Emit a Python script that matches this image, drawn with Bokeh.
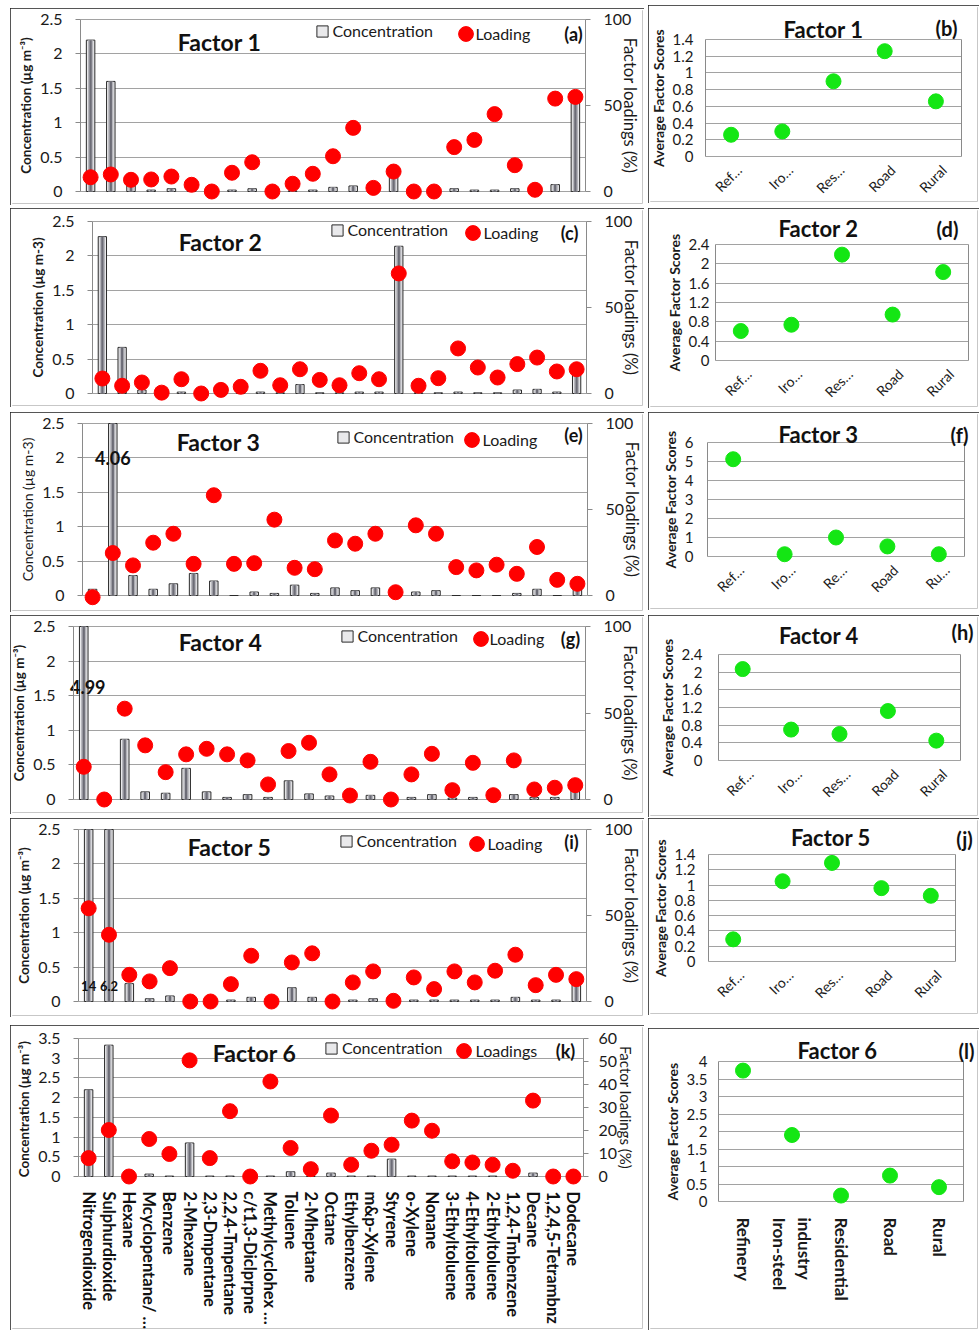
import math
from bokeh.plotting import figure
from bokeh.models import (ColumnDataSource, Range1d, LinearAxis, FixedTicker,
                          Legend, LegendItem, Label, Spacer, CustomJSTickFormatter)
from bokeh.layouts import column, row
from bokeh.embed import file_html
from bokeh.resources import INLINE
from bokeh.core.properties import value

# ---------------------------------------------------------------- data
species = ["Nitrogendioxide", "Sulphurdioxide", "Hexane", "Mcyclopentane/ …", "Benzene",
           "2-Mhexane", "2,3-Dmpentane", "2,2,4-Tmpentane", "c/t1,3-Diclprpne",
           "Methylcyclohex …", "Toluene", "2-Mheptane", "Octane", "Ethylbenzene",
           "m&p-Xylene", "Styrene", "o-Xylene", "Nonane", "3-Ethyltoluene",
           "4-Ethyltoluene", "2-Ethyltoluene", "1,2,4-Tmbenzene", "Decane",
           "1,2,4,5-Tetrambnz", "Dodecane"]

conc_f1 = [2.2, 1.6, 0.12, 0.02, 0.04, 0.02, 0.01, 0.02, 0.04, 0.01, 0.01, 0.02, 0.06,
           0.08, 0.01, 0.22, 0.01, 0.01, 0.04, 0.02, 0.02, 0.04, 0.01, 0.1, 1.33]
load_f1 = [8.3, 9.9, 6.8, 7.0, 8.7, 3.9, 0, 10.9, 17.0, 0, 4.5, 10.3, 20.5, 37.0, 2.1,
           11.6, 0, 0, 25.8, 30.0, 45.0, 15.3, 1.0, 54.0, 55.0]

conc_f2 = [2.28, 0.67, 0.05, 0.01, 0.02, 0.01, 0.01, 0.01, 0.02, 0.01, 0.13, 0.01, 0.01,
           0.02, 0.02, 2.14, 0.01, 0.01, 0.02, 0.01, 0.01, 0.05, 0.06, 0.02, 0.3]
load_f2 = [8.7, 4.5, 6.4, 0.5, 8.3, 0, 2.1, 3.9, 13.2, 4.8, 14.1, 7.9, 4.8, 11.8, 8.3,
           69.8, 4.5, 8.9, 26.2, 15.1, 9.3, 17.1, 20.9, 12.8, 14.1]

conc_f3 = [0.09, 4.06, 0.29, 0.09, 0.17, 0.32, 0.21, 0.0, 0.05, 0.03, 0.15, 0.03, 0.11,
           0.07, 0.11, 0.01, 0.05, 0.07, 0.0, 0.0, 0.0, 0.03, 0.09, 0.0, 0.1]
load_f3 = [-1.0, 24.7, 17.5, 30.7, 35.9, 18.4, 58.3, 18.4, 18.8, 44.1, 16.1, 15.3, 32.0,
           30.1, 35.9, 1.9, 40.8, 35.9, 16.5, 14.6, 17.9, 12.6, 28.2, 9.1, 6.8]

conc_f4 = [4.99, 0.0, 0.87, 0.11, 0.09, 0.45, 0.11, 0.03, 0.07, 0.03, 0.27, 0.08, 0.05,
           0.01, 0.06, 0.0, 0.03, 0.07, 0.02, 0.03, 0.01, 0.07, 0.03, 0.03, 0.19]
load_f4 = [18.9, 0, 52.5, 31.3, 15.8, 26.1, 29.3, 26.1, 22.6, 8.7, 28.0, 32.8, 14.5, 2.3,
           21.8, 0, 14.5, 26.4, 5.4, 21.2, 2.5, 22.6, 5.8, 6.8, 8.3]

conc_f5 = [14, 6.2, 0.26, 0.04, 0.08, 0.0, 0.0, 0.02, 0.06, 0.0, 0.2, 0.06, 0.0, 0.02,
           0.04, 0.0, 0.02, 0.02, 0.02, 0.02, 0.02, 0.06, 0.02, 0.02, 0.27]
load_f5 = [54.2, 38.8, 15.5, 11.7, 19.4, 0, 0, 10.1, 26.6, 0, 22.7, 28.0, 0, 11.1, 17.5,
           0.4, 14.0, 7.2, 17.5, 11.1, 17.9, 27.2, 9.5, 15.5, 13.0]

conc_f6 = [2.2, 3.33, 0.0, 0.06, 0.01, 0.85, 0.01, 0.01, 0.01, 0.01, 0.12, 0.01, 0.085,
           0.01, 0.01, 0.44, 0.01, 0.01, 0.01, 0.01, 0.01, 0.01, 0.085, 0.0, 0.0]
load_f6 = [8.0, 20.2, 0, 16.3, 9.8, 50.5, 8.0, 28.4, 0, 41.3, 12.4, 3.2, 26.5, 5.1, 11.2,
           13.8, 24.3, 19.9, 6.6, 6.1, 5.1, 2.5, 33.0, 0, 0]

sites_short = ["Ref…", "Iro…", "Res…", "Road", "Rural"]
sites_f3 = ["Ref…", "Iro…", "Re…", "Road", "Ru…"]
# two-line label: lines listed so that, turned upright, they read "Iron-steel industry"
sites_full = ["Refinery", "industry\nIron-steel", "Residential", "Road", "Rural"]

score_f1 = [0.26, 0.30, 0.90, 1.26, 0.66]
score_f2 = [0.61, 0.74, 2.19, 0.95, 1.83]
score_f3 = [5.12, 0.12, 1.0, 0.53, 0.12]
score_f4 = [2.07, 0.70, 0.60, 1.12, 0.45]
score_f5 = [0.29, 1.05, 1.29, 0.96, 0.86]
score_f6 = [3.74, 1.90, 0.17, 0.74, 0.41]

# ---------------------------------------------------------------- style
FONT = "Lato"
GRID = "#a2a2a2"
AXC = "#8a8a8a"
TXT = "#1a1a1a"
RED = "#ff0000"
GREEN = "#14e614"
BOX = {"outline": "2px solid #1e1e1e", "outline-offset": "-2px"}
FMT = CustomJSTickFormatter(code="return String(Math.round(tick*100)/100);")


def ticks(vmax, step):
    return [round(i * step, 4) for i in range(int(round(vmax / step)) + 1)]


def slots(names, shift=0.0):
    # centre of each category slot on a numeric axis
    return [i + 0.5 + shift for i in range(len(names))]


def add_label(p, g, X, Y, text, size, bold=True, align="center", color="#111111"):
    p.add_layout(Label(x=X - g["frame_left"], y=g["frame_bottom"] - Y,
                       x_units="screen", y_units="screen", text=text, text_font=FONT,
                       text_font_size=size, text_font_style="bold" if bold else "normal",
                       text_align=align, text_baseline="middle", text_color=color))


def add_legend(p, g, r, label, Xc, Yc, box, standoff):
    leg = Legend(items=[LegendItem(label=label, renderers=[r])],
                 location=(Xc - box / 2 - g["frame_left"], g["frame_bottom"] - (Yc + box / 2)),
                 orientation="horizontal", glyph_width=box, glyph_height=box,
                 label_height=box, label_standoff=standoff, padding=0, margin=0, spacing=0,
                 border_line_color=None, background_fill_alpha=0,
                 label_text_font=FONT, label_text_font_size="16px",
                 label_text_color=TXT)
    p.add_layout(leg)


def style_yaxis(ax, yt, ymax, size, standoff, tick_out):
    ax.ticker = FixedTicker(ticks=yt)
    ax.formatter = FMT
    ax.bounds = (0, ymax)
    ax.axis_line_color = AXC
    ax.major_tick_line_color = AXC if tick_out else None
    ax.major_tick_out = tick_out
    ax.major_tick_in = 0
    ax.minor_tick_line_color = None
    ax.major_label_text_font = FONT
    ax.major_label_text_font_size = size
    ax.major_label_text_color = TXT
    ax.major_label_standoff = standoff
    ax.axis_label_text_font = FONT
    ax.axis_label_text_color = TXT


def pixel_range(vmax, g):
    # range whose 0 sits at pixel fz and whose vmax sits at pixel ft, over the whole frame
    upp = vmax / (g["fz"] - g["ft"])
    return Range1d(-(g["frame_bottom"] - g["fz"]) * upp,
                   vmax + (g["ft"] - g["frame_top"]) * upp)


def base_figure(g, n, ymax):
    # the frame fills the whole box; categories occupy [fl, fr]; axes are placed inside it
    g["frame_left"] = g["ox"] + 2
    g["frame_right"] = g["ox"] + g["w"] - 2
    g["frame_top"] = g["oy"] + 2
    g["frame_bottom"] = g["oy"] + g["h"] - 2
    cw = (g["fr"] - g["fl"]) / n
    xr = Range1d(-(g["fl"] - g["frame_left"]) / cw, n + (g["frame_right"] - g["fr"]) / cw)
    p = figure(width=g["w"], height=g["h"], x_range=xr, y_range=pixel_range(ymax, g),
               output_backend="svg", toolbar_location=None,
               min_border_left=2, min_border_right=2, min_border_top=2,
               min_border_bottom=2, styles=BOX)
    p.outline_line_color = None
    p.xgrid.visible = False
    return p


def bounded_grid(p, yt, n):
    grid = p.ygrid[0]
    grid.ticker = FixedTicker(ticks=yt)
    grid.grid_line_color = GRID
    grid.grid_line_width = 1.2
    if "cross_bounds" in grid.properties():
        grid.cross_bounds = (0, n)
    else:
        grid.visible = False
        p.segment(x0=[0] * len(yt), x1=[n] * len(yt), y0=yt, y1=yt,
                  line_color=GRID, line_width=1.2)


def make_left(cfg):
    g = cfg["geom"]
    n = len(species)
    ymax, rmax = cfg["ymax"], cfg["rmax"]
    p = base_figure(g, n, ymax)
    yt = ticks(ymax, cfg["ystep"])
    bounded_grid(p, yt, n)

    ax = p.yaxis[0]
    ax.fixed_location = 0
    style_yaxis(ax, yt, ymax, "16px", 13, 5)
    ax.axis_label = cfg["ylabel"]
    ax.axis_label_text_font_size = cfg.get("ysize", "13.5px")
    ax.axis_label_text_font_style = "bold" if cfg["ybold"] else "normal"
    ax.axis_label_standoff = 3

    # bars taller than the axis are cut at the axis maximum (value written as text)
    shown = [min(v, ymax) for v in cfg["conc"]]
    src = ColumnDataSource(dict(x=slots(species), conc=cfg["conc"], shown=shown,
                                load=cfg["load"]))
    bar = p.vbar(x="x", top="shown", bottom=0, width=0.42, source=src,
                 fill_color="#e9e9eb", line_color="#2a2a2a", line_width=1)
    p.vbar(x="x", top="shown", bottom=0, width=0.26, source=src,
           fill_color="#b4b4ba", line_color=None)
    p.vbar(x="x", top="shown", bottom=0, width=0.11, source=src,
           fill_color="#6c6c76", line_color=None)

    p.extra_y_ranges = {"load": pixel_range(rmax, g)}
    dots = p.scatter(x="x", y="load", source=src, y_range_name="load", size=15,
                     fill_color=RED, line_color=RED)

    rt = ticks(rmax, cfg["rstep"])
    rax = LinearAxis(y_range_name="load", fixed_location=n)
    style_yaxis(rax, rt, rmax, "16px", cfg.get("rlab", 13), 5)
    rax.axis_label = "Factor loadings (%)"
    rax.axis_label_text_font_size = cfg.get("rsize", "16.5px")
    rax.axis_label_text_font_style = "normal"
    rax.axis_label_standoff = cfg.get("rstand", -14)
    p.add_layout(rax, "right")

    xa = p.xaxis[0]
    if cfg.get("xlabels"):
        xa.fixed_location = 0
        xa.ticker = FixedTicker(ticks=slots(species))
        xa.major_label_overrides = dict(zip(slots(species), species))
        xa.axis_line_color = None
        xa.major_tick_line_color = None
        xa.minor_tick_line_color = None
        xa.major_tick_out = 0
        xa.major_label_orientation = "vertical"
        xa.major_label_text_font = FONT
        xa.major_label_text_font_size = "16.5px"
        xa.major_label_text_font_style = "bold"
        xa.major_label_text_color = "#111111"
        xa.major_label_standoff = 15
    else:
        xa.visible = False

    # concentrations above the axis maximum are written as text
    over = [i for i, v in enumerate(cfg["conc"]) if v > ymax]
    if over:
        os_ = cfg["over"]
        xs = slots(species)
        p.text(x=[xs[i] for i in over], y=[os_["y"]] * len(over),
               text=[f"{cfg['conc'][i]:g}" for i in over],
               text_font=value(FONT), text_font_size=os_["size"], text_font_style="bold",
               text_align="center", text_baseline="middle", text_color="#111111",
               x_offset=os_.get("dx", 0))

    add_label(p, g, cfg["tpos"][0], cfg["tpos"][1], cfg["title"], "23px")
    add_label(p, g, cfg["tagpos"][0], cfg["tagpos"][1], cfg["tag"], "18px")
    add_legend(p, g, bar, "Concentration", cfg["sq"][0], cfg["sq"][1], 14, 4)
    add_legend(p, g, dots, "", cfg["dot"][0], cfg["dot"][1], 37, 0)
    add_label(p, g, cfg["txt2"], cfg["dot"][1], cfg["leg"], "16px", bold=False,
              align="left", color=TXT)
    return p


def make_right(cfg):
    g = cfg["geom"]
    sites = cfg["sites"]
    n = len(sites)
    ymax = cfg["ymax"]
    p = base_figure(g, n, ymax)
    yt = ticks(ymax, cfg["ystep"])
    bounded_grid(p, yt, n)

    ax = p.yaxis[0]
    ax.fixed_location = 0
    style_yaxis(ax, yt, ymax, "15px", cfg["ystand"], 0)
    ax.axis_label = "Average Factor Scores"
    ax.axis_label_text_font_size = "14px"
    ax.axis_label_text_font_style = "bold"
    ax.axis_label_standoff = 3

    rb = LinearAxis(ticker=FixedTicker(ticks=[]), bounds=(0, ymax), fixed_location=n)
    rb.axis_line_color = AXC
    rb.major_tick_out = 0
    rb.major_tick_in = 0
    rb.major_label_standoff = 0
    rb.major_label_text_font_size = "1px"
    p.add_layout(rb, "right")

    src = ColumnDataSource(dict(x=slots(sites), s=cfg["score"]))
    p.scatter(x="x", y="s", source=src, size=15, fill_color=GREEN, line_color=GREEN)

    xa = p.xaxis[0]
    xa.fixed_location = 0
    xa.axis_line_color = None
    xa.major_tick_line_color = None
    xa.minor_tick_line_color = None
    xa.major_tick_out = 0
    xa.major_label_text_font = FONT
    xa.major_label_text_color = TXT
    if cfg.get("full"):
        xa.ticker = FixedTicker(ticks=slots(sites))
        xa.major_label_overrides = dict(zip(slots(sites), sites))
        xa.major_label_orientation = "vertical"
        xa.major_label_text_font_size = "17px"
        xa.major_label_text_font_style = "bold"
        xa.major_label_standoff = 16
    else:
        # slanted labels end a little right of the slot centre, as in the original
        cw = (g["fr"] - g["fl"]) / n
        lab_at = slots(sites, 8 / cw)
        xa.ticker = FixedTicker(ticks=lab_at)
        xa.major_label_overrides = dict(zip(lab_at, sites))
        xa.major_label_orientation = math.pi / 4
        xa.major_label_text_font_size = "14px"
        xa.major_label_standoff = 11

    add_label(p, g, cfg["tpos"][0], cfg["tpos"][1], cfg["title"], "22px")
    add_label(p, g, cfg["tagpos"][0], cfg["tagpos"][1], cfg["tag"], "20px")
    return p


left_cfgs = [
    dict(conc=conc_f1, load=load_f1, title="Factor 1", tag="(a)", leg="Loading",
         ylabel="Concentration (µg m⁻³)", ybold=True, ymax=2.5, ystep=0.5, rmax=100, rstep=50,
         geom=dict(ox=10, oy=8, w=634, h=197, fl=80, fr=585, ft=19, fz=191),
         tpos=(219, 41), tagpos=(573, 33), sq=(321.5, 33), dot=(465, 33), txt2=475),
    dict(conc=conc_f2, load=load_f2, title="Factor 2", tag="(c)", leg="Loading",
         ylabel="Concentration (µg m-3)", ybold=True, ymax=2.5, ystep=0.5, rmax=100, rstep=50,
         geom=dict(ox=10, oy=208, w=634, h=199, fl=92, fr=586, ft=221, fz=393),
         tpos=(220, 241), tagpos=(569, 232), sq=(336.5, 232), dot=(472, 232), txt2=483),
    dict(conc=conc_f3, load=load_f3, title="Factor 3", tag="(e)", leg="Loading",
         ylabel="Concentration (µg m-3)", ybold=False, ysize="14px",
         ymax=2.5, ystep=0.5, rmax=100, rstep=50,
         geom=dict(ox=10, oy=412, w=634, h=200, fl=82, fr=587, ft=423, fz=595),
         tpos=(218, 441), tagpos=(573, 434), sq=(342.5, 439), dot=(471, 439), txt2=482,
         over=dict(y=2.0, size="18px")),
    dict(conc=conc_f4, load=load_f4, title="Factor 4", tag="(g)", leg="Loading",
         ylabel="Concentration (µg m⁻³)", ybold=True, ymax=2.5, ystep=0.5, rmax=100, rstep=50,
         geom=dict(ox=10, oy=615, w=634, h=199, fl=73, fr=585, ft=626, fz=799),
         tpos=(220, 641), tagpos=(570, 638), sq=(346.5, 638), dot=(480, 638), txt2=489,
         over=dict(y=1.63, size="18px", dx=4)),
    dict(conc=conc_f5, load=load_f5, title="Factor 5", tag="(i)", leg="Loading",
         ylabel="Concentration (µg m⁻³)", ybold=True, ymax=2.5, ystep=0.5, rmax=100, rstep=50,
         geom=dict(ox=10, oy=818, w=634, h=199, fl=78, fr=586, ft=829, fz=1001),
         tpos=(229, 846), tagpos=(571, 841), sq=(345.5, 843), dot=(476, 843), txt2=487,
         over=dict(y=0.23, size="13px")),
    dict(conc=conc_f6, load=load_f6, title="Factor 6", tag="(k)", leg="Loadings",
         ylabel="Concentration  (µg m⁻³)", ybold=True, ymax=3.5, ystep=0.5, rmax=60, rstep=10,
         rsize="15px", rstand=-3, rlab=10, xlabels=True,
         geom=dict(ox=10, oy=1025, w=634, h=305, fl=78, fr=583, ft=1038, fz=1176),
         tpos=(254, 1052), tagpos=(565, 1050), sq=(331, 1050), dot=(463, 1050), txt2=475),
]

right_cfgs = [
    dict(sites=sites_short, score=score_f1, title="Factor 1", tag="(b)", ymax=1.4, ystep=0.2,
         ystand=12, geom=dict(ox=648, oy=5, w=331, h=198, fl=705, fr=961, ft=39, fz=156),
         tpos=(823, 29), tagpos=(946, 27)),
    dict(sites=sites_short, score=score_f2, title="Factor 2", tag="(d)", ymax=2.4, ystep=0.4,
         ystand=6, geom=dict(ox=648, oy=208, w=331, h=200, fl=715, fr=968, ft=244, fz=360),
         tpos=(818, 228), tagpos=(947, 228)),
    dict(sites=sites_f3, score=score_f3, title="Factor 3", tag="(f)", ymax=6, ystep=1,
         ystand=14, geom=dict(ox=648, oy=412, w=331, h=198, fl=707, fr=964, ft=442, fz=556),
         tpos=(818, 434), tagpos=(959, 434)),
    dict(sites=sites_short, score=score_f4, title="Factor  4", tag="(h)", ymax=2.4, ystep=0.4,
         ystand=16, geom=dict(ox=648, oy=615, w=331, h=202, fl=718, fr=960, ft=654, fz=760),
         tpos=(821, 635), tagpos=(962, 631)),
    dict(sites=sites_short, score=score_f5, title="Factor  5", tag="(j)", ymax=1.4, ystep=0.2,
         ystand=13, geom=dict(ox=648, oy=818, w=331, h=197, fl=708, fr=955, ft=854, fz=961),
         tpos=(833, 837), tagpos=(964, 838)),
    dict(sites=sites_full, score=score_f6, title="Factor 6", tag="(l)", ymax=4, ystep=0.5,
         ystand=11, full=True,
         geom=dict(ox=648, oy=1028, w=331, h=302, fl=718, fr=963, ft=1061, fz=1201),
         tpos=(837, 1050), tagpos=(966, 1050)),
]

left_figs = [make_left(c) for c in left_cfgs]
right_figs = [make_right(c) for c in right_cfgs]


def stack(figs, cfgs, width):
    items = []
    prev_bottom = 0
    for f, c in zip(figs, cfgs):
        gap = c["geom"]["oy"] - prev_bottom
        if gap > 0:
            items.append(Spacer(width=width, height=gap))
        items.append(row(f))
        prev_bottom = c["geom"]["oy"] + c["geom"]["h"]
    return column(*items, spacing=0)


layout = row(Spacer(width=10, height=1330), stack(left_figs, left_cfgs, 634),
             Spacer(width=4, height=1330), stack(right_figs, right_cfgs, 331), spacing=0)

open("out.html", "w").write(file_html(layout, INLINE))
